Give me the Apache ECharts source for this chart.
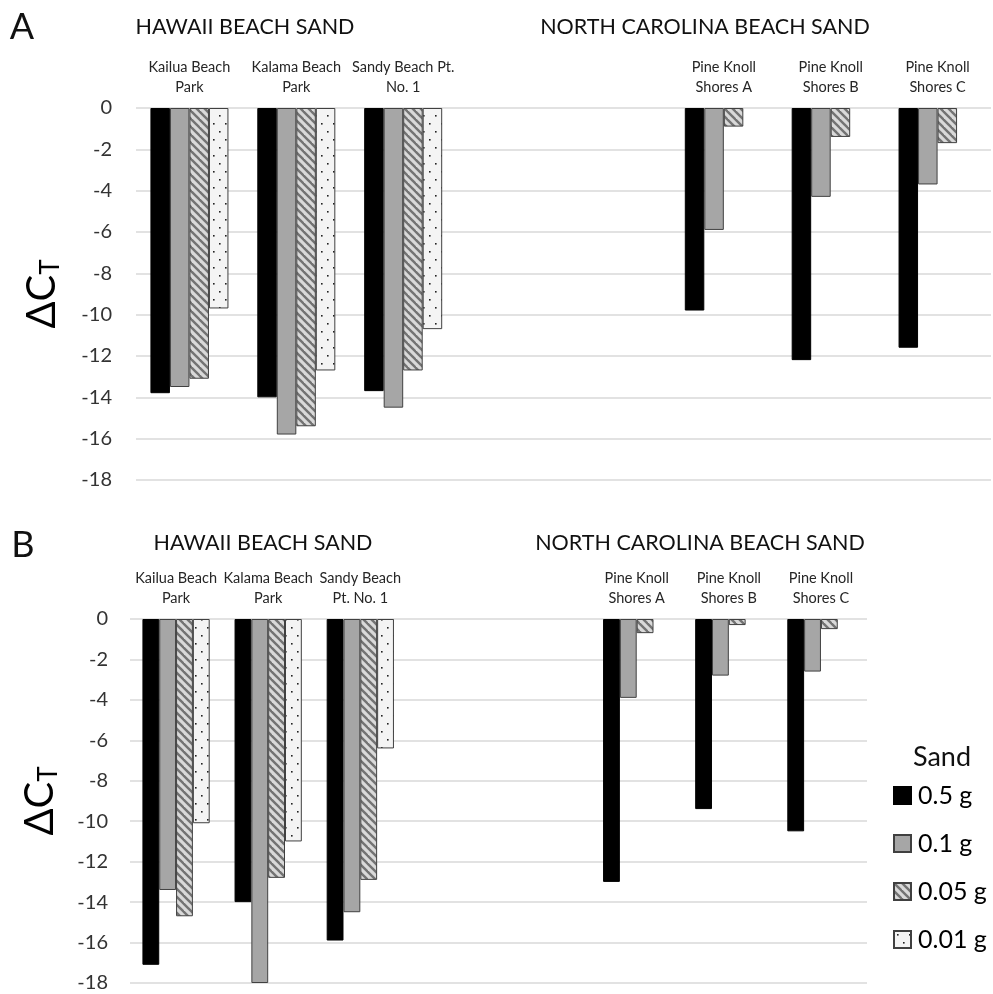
<!DOCTYPE html>
<html><head><meta charset="utf-8">
<script src="https://cdn.jsdelivr.net/npm/echarts@6/dist/echarts.min.js"></script>
<style>html,body{margin:0;padding:0;background:#fff}#c{width:993px;height:994px}</style>
</head><body><div id="c"></div>
<script>
const categories = ['Kailua Beach\nPark','Kalama Beach\nPark','Sandy Beach Pt.\nNo. 1','','','Pine Knoll\nShores A','Pine Knoll\nShores B','Pine Knoll\nShores C'];
const categoriesB = ['Kailua Beach\nPark','Kalama Beach\nPark','Sandy Beach\nPt. No. 1','','','Pine Knoll\nShores A','Pine Knoll\nShores B','Pine Knoll\nShores C'];
const seriesNames = ['0.5 g','0.1 g','0.05 g','0.01 g'];
// Panel A
const a_05 = [-13.8, -14.0, -13.7, null, null, -9.8, -12.2, -11.6];
const a_01 = [-13.5, -15.8, -14.5, null, null, -5.9, -4.3, -3.7];
const a_005 = [-13.1, -15.4, -12.7, null, null, -0.9, -1.4, -1.7];
const a_001 = [-9.7, -12.7, -10.7, null, null, null, null, null];
// Panel B
const b_05 = [-17.1, -14.0, -15.9, null, null, -13.0, -9.4, -10.5];
const b_01 = [-13.4, -18.0, -14.5, null, null, -3.9, -2.8, -2.6];
const b_005 = [-14.7, -12.8, -12.9, null, null, -0.7, -0.3, -0.5];
const b_001 = [-10.1, -11.0, -6.4, null, null, null, null, null];
const yTicks = {min: -18, max: 0, interval: 2};

function hatch(){
  const c = document.createElement('canvas'); c.width = 8; c.height = 8;
  const g = c.getContext('2d');
  g.fillStyle = '#d9d9d9'; g.fillRect(0,0,8,8);
  g.strokeStyle = '#737373'; g.lineWidth = 2.4;
  [[-2,-2,10,10],[6,-2,10,2],[-2,6,2,10]].forEach(l=>{g.beginPath();g.moveTo(l[0],l[1]);g.lineTo(l[2],l[3]);g.stroke();});
  return c;
}
function dots(){
  const c = document.createElement('canvas'); c.width = 12; c.height = 16;
  const g = c.getContext('2d');
  g.fillStyle = '#f4f4f4'; g.fillRect(0,0,12,16);
  g.fillStyle = '#222';
  g.fillRect(3,3,1.6,1.6); g.fillRect(9,11,1.6,1.6);
  return c;
}
const styles = [
  {color:'#000000', borderColor:'#000000', borderWidth:1},
  {color:'#a6a6a6', borderColor:'#404040', borderWidth:1},
  {color:{image:hatch(), repeat:'repeat'}, borderColor:'#404040', borderWidth:1},
  {color:{image:dots(), repeat:'repeat'}, borderColor:'#404040', borderWidth:1}
];
const font = 'Lato';
const chart = echarts.init(document.getElementById('c'), null, {renderer:'canvas'});
function mkX(gi, cats){
  return {type:'category', gridIndex:gi, data:cats, position:'top',
    axisLine:{show:false}, axisTick:{show:false}, splitLine:{show:false},
    axisLabel:{interval:0, fontFamily:font, fontSize:14.5, color:'#262626', lineHeight:20, margin:11}};
}
function mkY(gi){
  return {type:'value', gridIndex:gi, min:yTicks.min, max:yTicks.max, interval:yTicks.interval,
    axisLine:{show:false}, axisTick:{show:false},
    splitLine:{lineStyle:{color:'#d9d9d9', width:1.5}},
    axisLabel:{fontFamily:font, fontSize:20, color:'#333', margin:gi===0?24:22},
    name:'{m|ΔC}{s|T}', nameLocation:'middle', nameRotate:90, nameGap:gi===0?72:68,
    nameTextStyle:{rich:{m:{fontFamily:font, fontSize:40, color:'#000'}, s:{fontFamily:font, fontSize:26, color:'#000', padding:[18,0,0,0]}}}};
}
const dataA = [a_05, a_01, a_005, a_001];
const dataB = [b_05, b_01, b_005, b_001];
const series = [];
dataA.forEach((d,i)=>series.push({type:'bar', name:seriesNames[i], xAxisIndex:0, yAxisIndex:0, data:d, itemStyle:styles[i], barGap:'0%', barCategoryGap:'27%', silent:true}));
dataB.forEach((d,i)=>series.push({type:'bar', name:seriesNames[i], xAxisIndex:1, yAxisIndex:1, data:d, itemStyle:styles[i], barGap:'0%', barCategoryGap:'27%', silent:true}));
const txt = (x,y,t,size,align)=>({type:'text', x:x, y:y, style:{text:t, fontFamily:font, fontSize:size, fill:'#111', textAlign:align||'center', textVerticalAlign:'middle'}});
chart.setOption({
  animation:false,
  backgroundColor:'#fff',
  grid:[{left:136, right:2, top:108, height:372}, {left:130, width:737, top:619, height:364}],
  xAxis:[mkX(0, categories), mkX(1, categoriesB)],
  yAxis:[mkY(0), mkY(1)],
  legend:{data:seriesNames, orient:'vertical', left:888, top:778, itemWidth:17, itemHeight:17, itemGap:23,
    icon:'rect', textStyle:{fontFamily:font, fontSize:25, color:'#000', padding:[0,0,0,2]}},
  graphic:[
    txt(22,27,'A',36), txt(23,545,'B',36),
    txt(245,27,'HAWAII BEACH SAND',21.5), txt(705,27,'NORTH CAROLINA BEACH SAND',21.5),
    txt(263,543,'HAWAII BEACH SAND',21.5), txt(700,543,'NORTH CAROLINA BEACH SAND',21.5),
    txt(942,757,'Sand',27)
  ],
  series:series
});
</script></body></html>
